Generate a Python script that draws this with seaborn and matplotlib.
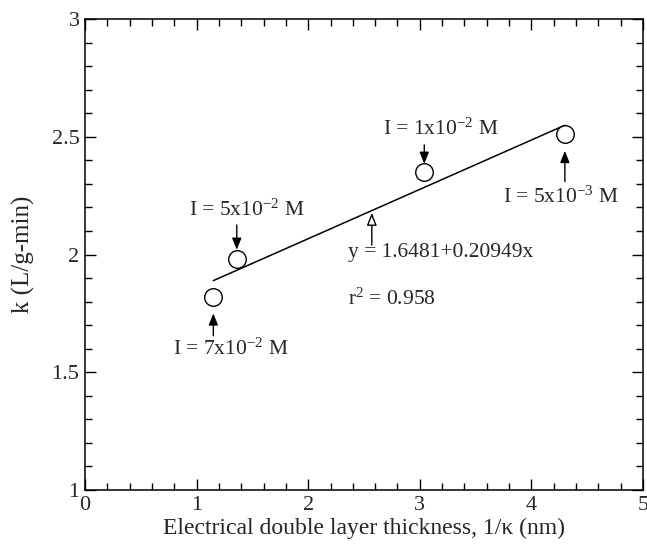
import matplotlib
matplotlib.use("Agg")
import matplotlib.pyplot as plt
import seaborn as sns
import numpy as np
import pandas as pd

# ---- data ----
thickness = [1.15, 1.36, 3.04, 4.30]          # 1/kappa (nm)
k_values = [1.82, 1.98, 2.35, 2.51]           # k (L/g-min)
ionic_mant = ["7", "5", "1", "5"]
ionic_exp = ["-2", "-2", "-2", "-3"]
intercept = 1.6481
slope = 0.20949
r2 = 0.958

sns.set_theme(style="ticks")
plt.rcParams["font.family"] = ["Liberation Serif", "DejaVu Serif"]
plt.rcParams["mathtext.fontset"] = "custom"
plt.rcParams["mathtext.rm"] = "Liberation Serif"
plt.rcParams["mathtext.it"] = "Liberation Serif:italic"

fig = plt.figure(figsize=(6.47, 5.47), dpi=100)
ax = fig.add_axes([85/647, 57/547, (643-85)/647, (490-19)/547])

df = pd.DataFrame({"x": thickness, "k": k_values})
fit_x = np.array([min(thickness), max(thickness)])
fit = pd.DataFrame({"x": fit_x, "k": intercept + slope * fit_x})

sns.lineplot(data=fit, x="x", y="k", ax=ax, color="black", lw=1.1)
sns.scatterplot(data=df, x="x", y="k", ax=ax, s=160, facecolor="white",
                edgecolor="black", linewidth=1.0, zorder=5)

ax.set_xlim(0, 5)
ax.set_ylim(1, 3)
ax.set_xticks(np.arange(0, 5.01, 1))
ax.set_xticks(np.arange(0, 5.01, 0.2), minor=True)
ax.set_yticks(np.arange(1, 3.01, 0.5))
ax.set_yticks(np.arange(1, 3.01, 0.1), minor=True)
ax.set_xticklabels(["0", "1", "2", "3", "4", "5"])
ax.set_yticklabels(["1", "1.5", "2", "2.5", "3"])
ax.tick_params(which="both", direction="in", top=True, right=True,
               labelsize=16, color="black", width=1)
ax.tick_params(which="major", length=8, pad=4)
ax.tick_params(which="minor", length=5)
for s in ax.spines.values():
    s.set_color("black")
    s.set_linewidth(1.1)

ax.set_xlabel("Electrical double layer thickness, 1/\u03ba (nm)", fontsize=17, labelpad=2)
ax.set_ylabel("k (L/g-min)", fontsize=18, labelpad=12)

# annotations: (text x, text y, arrow tail y, arrow tip y)
ann = [
    (1.31, 1.60, 1.655, 1.750),
    (1.45, 2.19, 2.125, 2.020),
    (3.19, 2.53, 2.465, 2.385),
    (4.26, 2.245, 2.31, 2.44),
]
fs = 15.5
for (tx, ty, ay0, ay1), xv, m, e in zip(ann, thickness, ionic_mant, ionic_exp):
    ax.text(tx, ty, "I = %sx10$^{\\mathrm{%s}}$ M" % (m, e), ha="center", va="center",
            fontsize=fs)
    ax.annotate("", xy=(xv, ay1), xytext=(xv, ay0),
                arrowprops=dict(arrowstyle="-|>,head_length=0.5,head_width=0.2",
                                color="black", lw=1.0,
                                mutation_scale=14, shrinkA=0, shrinkB=0))

ax.annotate("", xy=(2.57, intercept + slope * 2.57 - 0.01), xytext=(2.57, 2.04),
            arrowprops=dict(arrowstyle="-|>,head_length=0.5,head_width=0.2",
                            fc="white", ec="black", lw=1.0,
                            mutation_scale=15, shrinkA=0, shrinkB=0))
ax.text(2.36, 2.01, "y = %.4f+%.5fx" % (intercept, slope), ha="left", va="center", fontsize=fs)
ax.text(2.36, 1.81, "r$^{\\mathrm{2}}$ = %.3f" % r2, ha="left", va="center", fontsize=fs)

fig.savefig("out.png", dpi=100)
